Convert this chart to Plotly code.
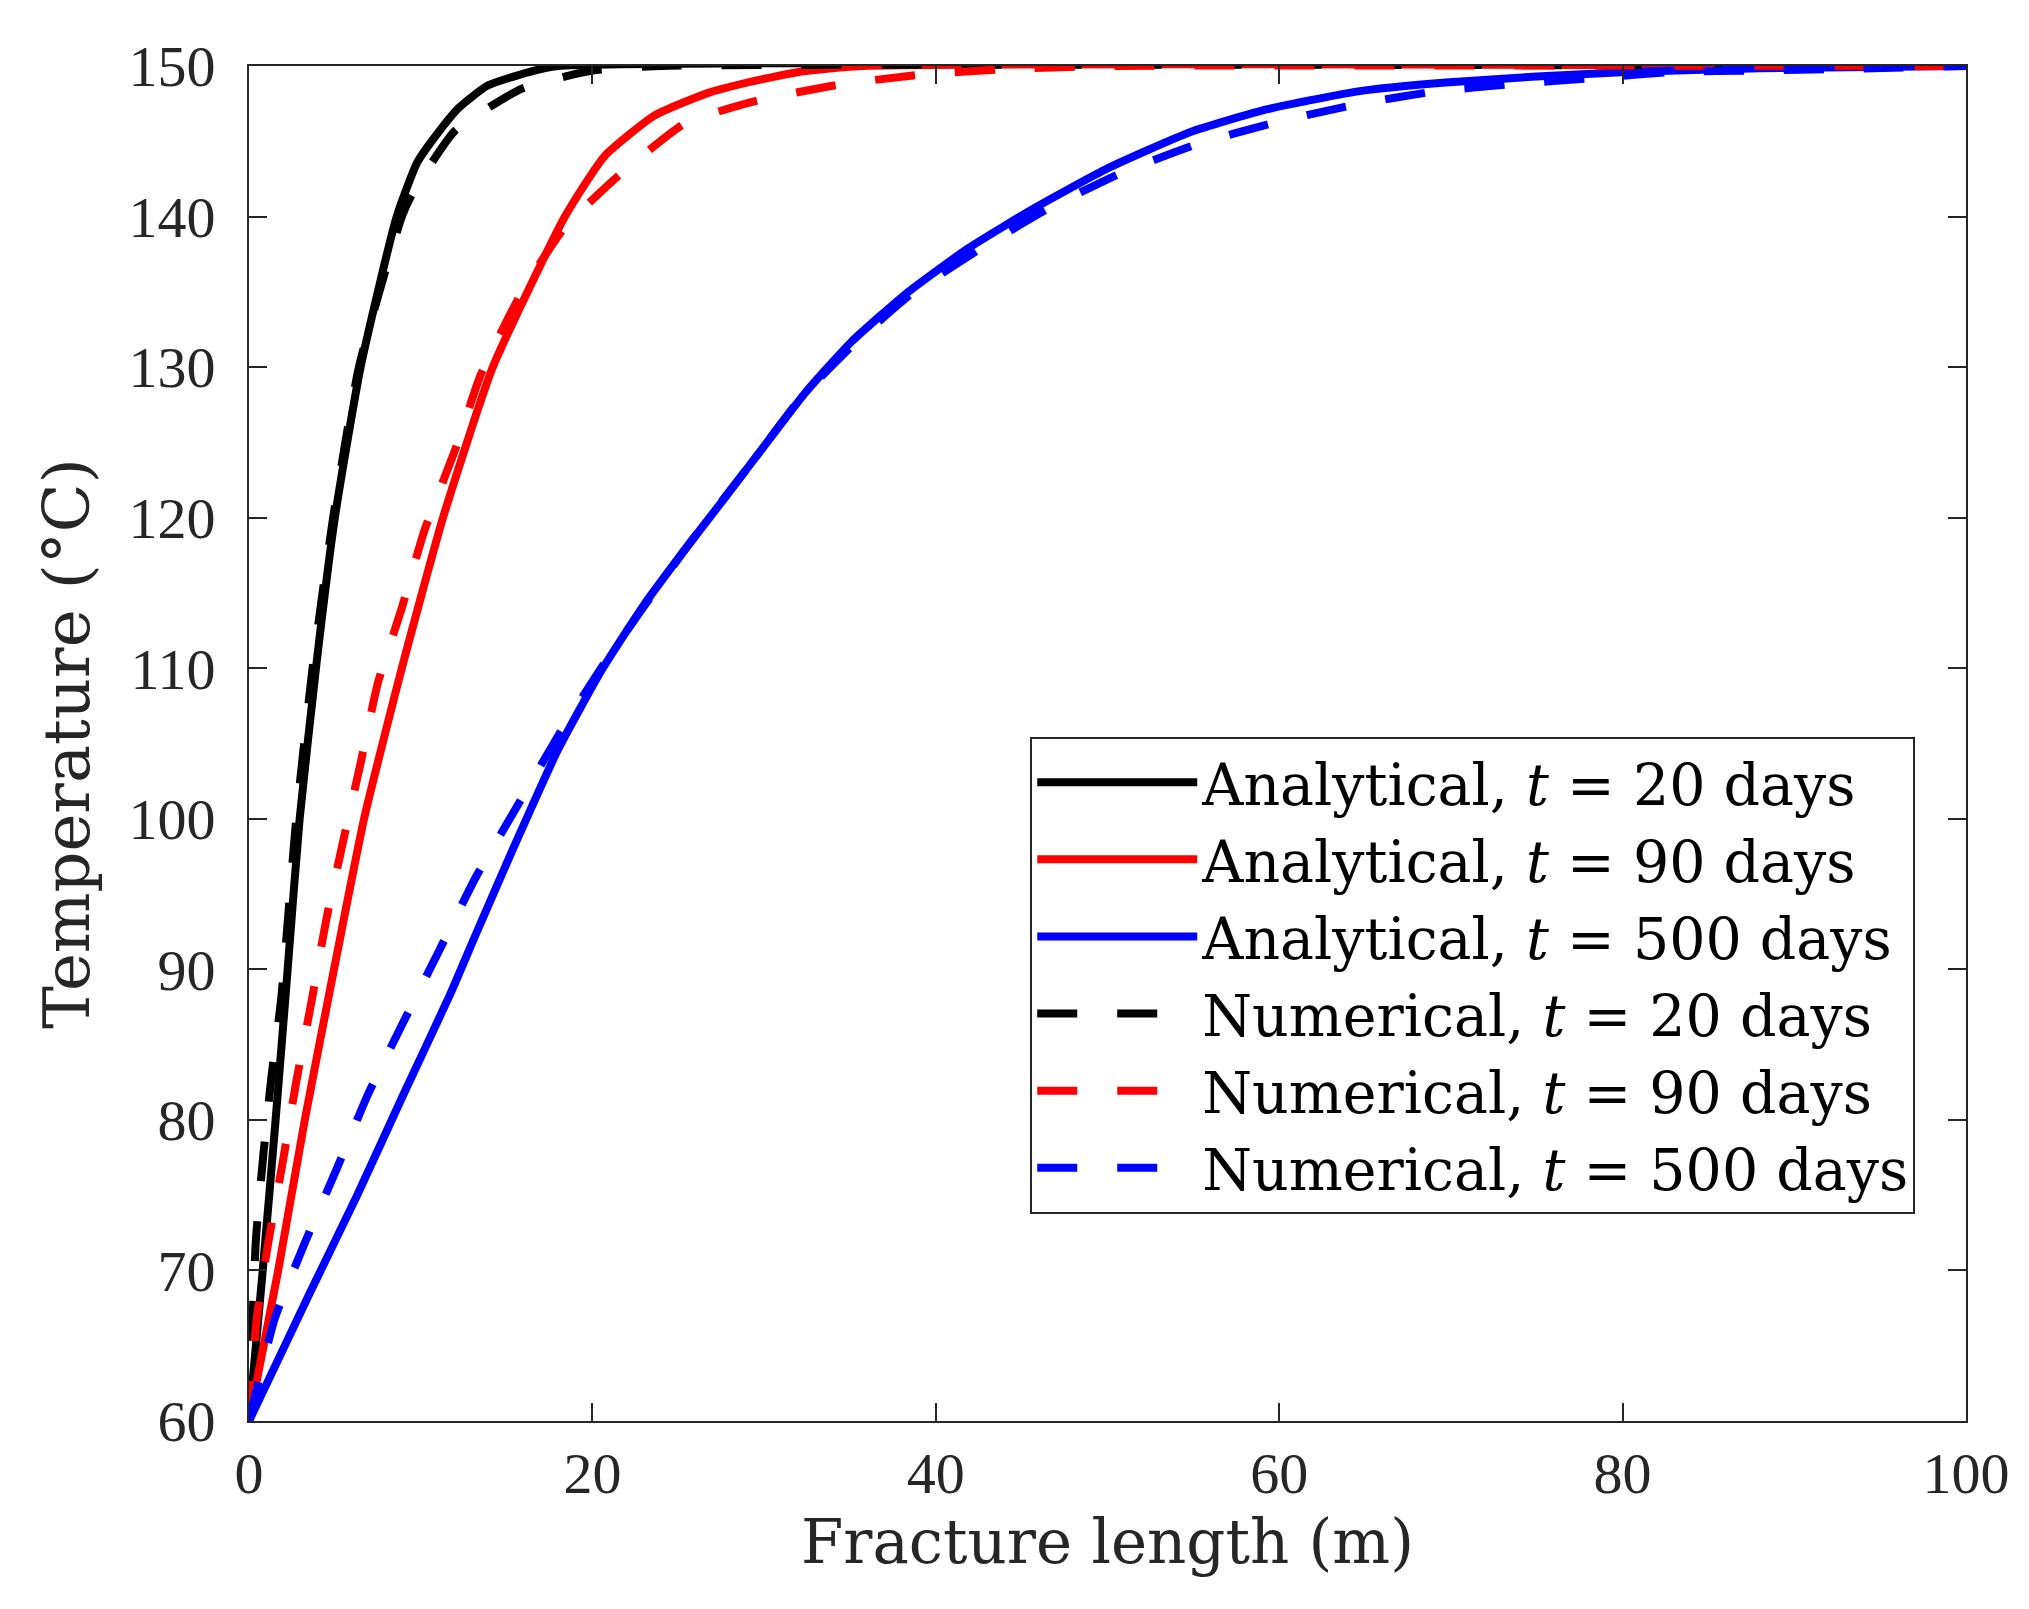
import plotly.graph_objects as go

# Datos: longitud de fractura (m) y temperatura (C)
x_ana_20 = [0, 0.8, 1.55, 2.25, 2.95, 3.9, 5.0, 6.5, 8.6, 9.8, 10.9, 12.2, 13.9, 16.3, 18.0, 100]
T_ana_20 = [60, 70, 80, 90, 100, 110, 120, 130, 140, 143.6, 145.4, 147.2, 148.7, 149.6, 150, 150]

x_ana_90 = [0, 1.7, 3.25, 4.95, 6.7, 8.9, 11.3, 14.2, 18.4, 20.7, 23.6, 26.7, 29.0, 32.0, 35.6, 100]
T_ana_90 = [60, 70, 80, 90, 100, 110, 120, 130, 140, 144, 146.7, 148.2, 148.9, 149.6, 150, 150]

x_ana_500 = [0, 3.5, 6.3, 9.0, 11.7, 13.2, 15.3, 18.0, 20.5, 23.0, 25.4, 27.5, 29.5, 32.4, 35.1,
             38.4, 41.9, 45.8, 50.0, 54.8, 59.2, 64.5, 69.7, 75.0, 80.2, 88.0, 100]
T_ana_500 = [60, 68.4, 75.0, 81.7, 88.3, 92.3, 97.8, 104.6, 109.8, 114.2, 117.9, 121.0, 124.0, 128.3, 131.7,
             135.0, 137.9, 140.6, 143.2, 145.6, 147.1, 148.3, 148.9, 149.3, 149.6, 149.85, 150]

x_num_20 = [0, 0.4, 0.82, 1.3, 1.88, 2.75, 3.7, 4.9, 6.4, 8.9, 9.5, 12.0, 15.9, 20.0, 24.0, 100]
T_num_20 = [60, 72, 77.5, 82.8, 88.1, 100, 110, 120, 130, 140, 141.5, 145.7, 148.5, 149.7, 150, 150]

x_num_90 = [0, 0.43, 1.1, 1.98, 2.76, 3.63, 4.5, 5.5, 6.5, 7.5, 8.9, 10.2, 12.0, 13.5, 15.9,
            18.4, 21.5, 25.4, 29.6, 34.3, 38.9, 44.1, 50.0, 100]
T_num_90 = [60, 66.6, 71.7, 77.3, 82.6, 87.8, 93.3, 98.6, 103.7, 109.0, 114.0, 119.1, 124.5, 129.5, 135.0,
            139.3, 142.7, 146.2, 147.7, 148.75, 149.4, 149.8, 150, 150]

x_num_500 = [0, 1.5, 3.24, 5.09, 6.93, 8.97, 11.1, 13.2, 15.6, 18.0, 20.5, 23.0, 25.4, 29.5, 32.1,
             35.2, 38.5, 42.5, 46.5, 50.8, 55.2, 59.6, 64.3, 69.0, 73.6, 78.3, 83.0, 87.9, 92.6, 100]
T_num_500 = [60, 66.8, 71.8, 76.7, 81.7, 86.45, 91.3, 96.1, 100.8, 105.5, 110.0, 114.1, 117.9, 124.0, 127.9,
             131.5, 134.8, 137.8, 140.5, 142.9, 144.8, 146.2, 147.4, 148.3, 148.8, 149.2, 149.6, 149.7, 149.8, 150]

x_ticks = [0, 20, 40, 60, 80, 100]
y_ticks = [60, 70, 80, 90, 100, 110, 120, 130, 140, 150]

series = [
    ('Analytical, <i>t</i> = 20 days', x_ana_20, T_ana_20, 'black', 'solid'),
    ('Analytical, <i>t</i> = 90 days', x_ana_90, T_ana_90, 'red', 'solid'),
    ('Analytical, <i>t</i> = 500 days', x_ana_500, T_ana_500, 'blue', 'solid'),
    ('Numerical, <i>t</i> = 20 days', x_num_20, T_num_20, 'black', '40px,40px'),
    ('Numerical, <i>t</i> = 90 days', x_num_90, T_num_90, 'red', '40px,40px'),
    ('Numerical, <i>t</i> = 500 days', x_num_500, T_num_500, 'blue', '40px,40px'),
]

fig = go.Figure()

for nombre, xs, ys, color, estilo in series:
    fig.add_trace(go.Scatter(
        x=xs, y=ys, mode='lines', name=nombre,
        line=dict(color=color, width=8, dash=estilo, shape='spline', smoothing=0.5),
    ))

eje = dict(
    showline=True, linecolor='#262626', linewidth=2, mirror='ticks',
    ticks='inside', ticklen=18, tickwidth=2, tickcolor='#262626',
    showgrid=False, zeroline=False,
    tickfont=dict(family='Liberation Serif', size=58, color='#262626'),
)

fig.update_layout(
    width=2029, height=1609,
    margin=dict(l=241, r=71, t=58, b=196),
    paper_bgcolor='white', plot_bgcolor='white',
    font=dict(family='Liberation Serif', color='#000000'),
    xaxis=dict(eje, range=[0, 100], tickvals=x_ticks,
               title=dict(text='Fracture length (m)',
                          font=dict(family='DejaVu Serif', size=61, color='#262626'), standoff=16)),
    yaxis=dict(eje, range=[60, 150], tickvals=y_ticks, ticklabelstandoff=20,
               title=dict(text='Temperature (°C)',
                          font=dict(family='DejaVu Serif', size=64, color='#262626'), standoff=18)),
    showlegend=True,
    legend=dict(
        x=0.455, y=0.505, xanchor='left', yanchor='top',
        bgcolor='white', bordercolor='#262626', borderwidth=2,
        font=dict(family='DejaVu Serif', size=57, color='#000000'),
        itemwidth=160,
        tracegroupgap=0,
    ),
)

fig.write_html('out.html')
